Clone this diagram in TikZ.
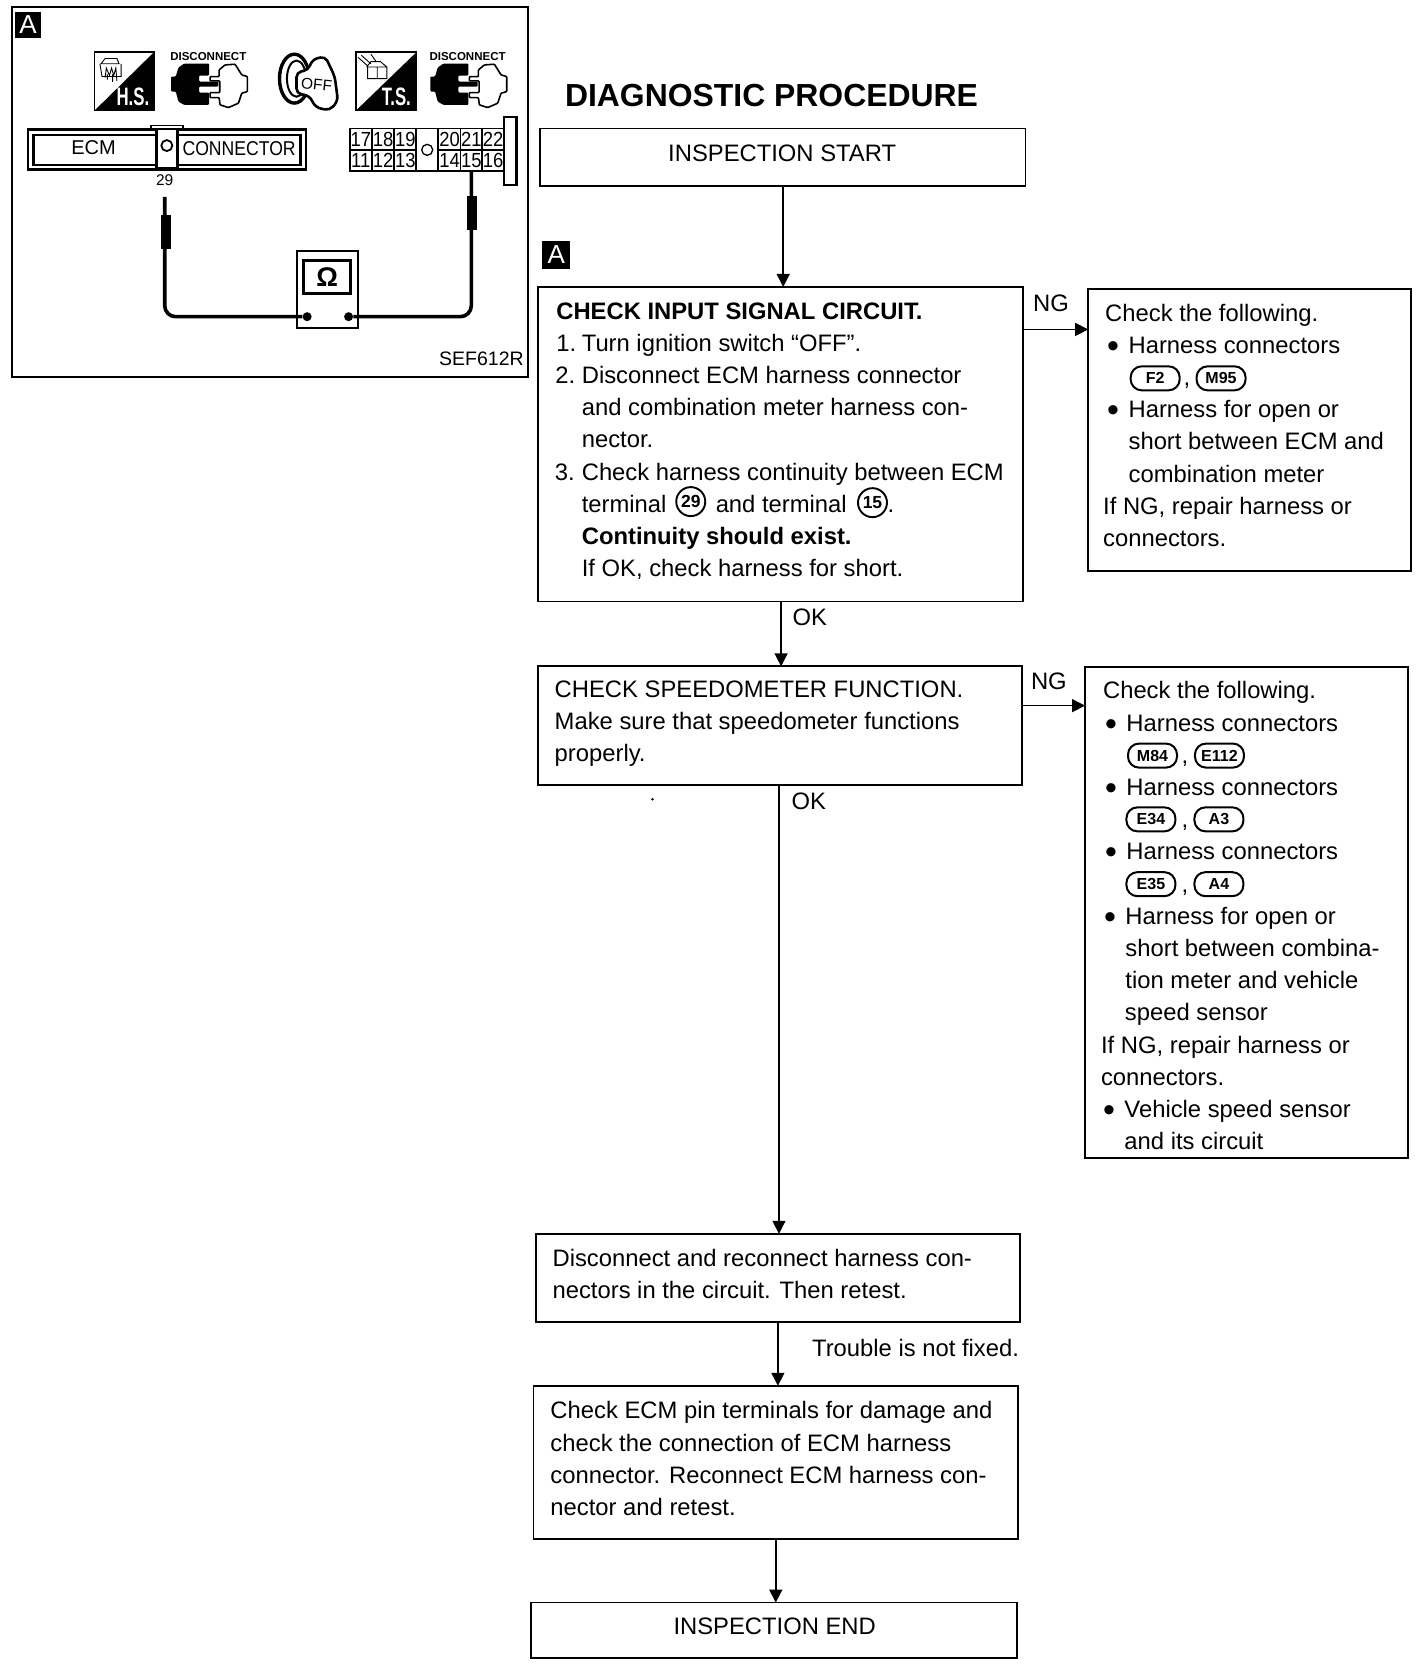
\documentclass[tikz,border=0pt]{standalone}
\usepackage{fontspec}
\setmainfont{Liberation Sans}
\usetikzlibrary{arrows.meta}
\newcommand{\bodysize}{\fontsize{23.8pt}{32.2pt}\selectfont}
\tikzset{
  boxline/.style={draw=black,line width=1.8pt,inner sep=0pt,outer sep=0pt,fill=white},
  flowarrow/.style={draw=black,line width=1.5pt,-{Triangle[length=13pt,width=13pt]}},
  bodytext/.style={inner sep=0pt,outer sep=0pt,align=left,anchor=north west,font=\bodysize,text=black},
  flowlabel/.style={inner sep=0pt,font=\bodysize,text=black},
  titletext/.style={inner sep=0pt,font=\fontsize{31.9pt}{36pt}\selectfont\bfseries},
  badge/.style={fill=black,text=white,inner sep=0pt,minimum size=26pt,font=\fontsize{26pt}{26pt}\selectfont},
  pill/.style={draw=black,line width=2pt,rounded corners=11pt,minimum width=49pt,minimum height=24pt,inner sep=0pt,fill=white,font=\fontsize{16pt}{16pt}\selectfont\bfseries},
  termring/.style={draw=black,line width=1.9pt,circle,minimum size=29pt,inner sep=0pt,font=\fontsize{17.5pt}{17pt}\selectfont\bfseries},
  wire/.style={draw=black,line width=3.6pt},
  probe/.style={fill=black,draw=black,inner sep=0pt,minimum width=9pt,minimum height=33pt},
  meterdot/.style={circle,fill=black,inner sep=0pt,minimum size=9pt},
  cellbox/.style={draw=black,line width=1.5pt,inner sep=0pt,minimum width=21.8pt,minimum height=21.3pt,font=\fontsize{20pt}{20pt}\selectfont},
  smalltext/.style={inner sep=0pt,font=\fontsize{19pt}{20pt}\selectfont},
  icontag/.style={inner sep=0pt,font=\fontsize{11.5pt}{12pt}\selectfont\bfseries},
  discon/.pic={
    \begin{scope}[x=0.3333pt,y=-0.3333pt]
      \fill[black,rounded corners=1pt] (0,40)--(14,40)--(22,13)--(39,1)--(114,1)--(114,37)--(84,37)--(84,55)--(142,55)--(142,70)--(84,70)--(84,88)--(114,88)--(114,125)--(39,125)--(22,115)--(14,85)--(0,85)--cycle;
      \draw[black,line width=1.6pt,rounded corners=.8pt] (117,40)--(144,40)--(144,20)--(162,5)--(192,3)--(212,35)--(229,40)--(229,85)--(212,90)--(202,120)--(172,133)--(147,125)--(144,103)--(117,103)--(117,88)--(146,88)--(146,53)--(117,53)--cycle;
    \end{scope}
  },
}
\newcommand{\flowbox}[6]{%
  \pgfmathsetmacro{\boxw}{(#4-#2)*1.0627}%
  \pgfmathsetmacro{\boxh}{(#5-#3)*1.0627}%
  \node[boxline,minimum width=\boxw pt,minimum height=\boxh pt,font=\bodysize] (#1) at ({(#2+#4)/2},{(#3+#5)/2}) {#6};%
}
\newcommand{\gridcell}[3]{\node[cellbox] (cell#1) at (#2,#3) {\scalebox{.92}[1.02]{#1}};}
\newcommand{\bul}{\makebox[23.4pt][l]{\hspace{2pt}\raisebox{-4pt}{\fontsize{34pt}{34pt}\selectfont •}}}
\newcommand{\ind}{\hspace*{23.4pt}}
\newcommand{\numb}[1]{\makebox[25.5pt][l]{#1}}
\begin{document}
\begin{tikzpicture}[x=1.0627pt,y=-1.0627pt]
\useasboundingbox (0,0) rectangle (1340,1567.7);
\fill[white] (0,0) rectangle (1340,1567.7);

% ---------- left panel ----------
\node[boxline,fill=none,minimum width=516.5pt,minimum height=370pt] (panel) at (254,181) {};
\node[badge] (badgeL) at (26.5,23.5) {A};

% H.S. icon
\draw[black,line width=1.2pt,fill=white] (89,49) rectangle (145,104);
\fill[black] (89,104)--(145,49)--(145,104)--cycle;
\node[inner sep=0pt,text=white,xscale=.8,yscale=1.2,font=\fontsize{21pt}{21pt}\selectfont\bfseries] (hs) at (125,91) {H.S.};
\draw[black,line width=.9pt] (95,60)--(99,55)--(110,55)--(112,60)--(95,60) (94,60)--(96,72)--(114,72)--(114,60)
  (99,73)--(100,64)--(103,71)--(105,64)--(107,71)--(109,64)--(110,76) (101,75)--(101,70) (106,77)--(106,70);
% Disconnect 1
\node[icontag] (dtag1) at (196,53) {DISCONNECT};
\pic (dc1) at (161,59.5) {discon};
% key
\draw[black,line width=3.4pt] (277,74) ellipse (14 and 23);
\draw[black,line width=2pt] (279,74) ellipse (9 and 17);
\draw[black,line width=2.6pt,fill=white,rounded corners=5pt] (279,68)--(290,66)--(294,56)--(306,53)--(315,72)--(318,95)--(310,104)--(297,101)--(291,90)--(279,88)--cycle;
\node[inner sep=0pt,rotate=-6,font=\fontsize{15.5pt}{16pt}\selectfont] (offtag) at (298,80) {OFF};
% T.S. icon
\draw[black,line width=1.2pt,fill=white] (335,49) rectangle (392,104);
\fill[black] (335,104)--(392,49)--(392,104)--cycle;
\node[inner sep=0pt,text=white,xscale=.8,yscale=1.2,font=\fontsize{21pt}{21pt}\selectfont\bfseries] (ts) at (373,91) {T.S.};
\draw[black,line width=.9pt] (346,63) rectangle (355,74) (355,63) rectangle (364,74) (345,63)--(349,58)--(358,58)--(364,63)
  (337,54)--(346,62) (340,52)--(349,60) (349,51)--(354,58);
% Disconnect 2
\node[icontag] (dtag2) at (440,53) {DISCONNECT};
\pic (dc2) at (405,59.5) {discon};

% ECM connector
\draw[black,line width=1.5pt,fill=white] (142,122)--(142,118)--(172,118)--(172,122);
\node[boxline,line width=2.4pt,minimum width=278pt,minimum height=40pt] (ecmouter) at (157,140.5) {};
\node[boxline,line width=2.4pt,minimum width=267pt,minimum height=30pt] (ecminner) at (157,141) {};
\node[boxline,line width=2.4pt,minimum width=21pt,minimum height=39pt] (ecmslot) at (157,140) {};
\node[circle,draw=black,line width=1.8pt,minimum size=11pt,inner sep=0pt] (ecmring) at (157,137) {};
\node[smalltext,font=\fontsize{20pt}{20pt}\selectfont] (ecmtxt) at (88,139) {ECM};
\node[smalltext,xscale=.88,font=\fontsize{20pt}{20pt}\selectfont] (conntxt) at (225,140) {CONNECTOR};
\node[inner sep=0pt,font=\fontsize{15.5pt}{16pt}\selectfont] (lab29) at (155,170) {29};

% right connector
\node[draw=black,line width=2.6pt,fill=white,inner sep=0pt,minimum width=12.5pt,minimum height=68pt] (conntab) at (480,142) {};
\gridcell{17}{339.5}{131}\gridcell{18}{360.5}{131}\gridcell{19}{381.5}{131}
\gridcell{11}{339.5}{151}\gridcell{12}{360.5}{151}\gridcell{13}{381.5}{151}
\gridcell{20}{423}{131}\gridcell{21}{443.5}{131}\gridcell{22}{464}{131}
\gridcell{14}{423}{151}\gridcell{15}{443.5}{151}\gridcell{16}{464}{151}
\node[draw=black,line width=1.5pt,inner sep=0pt,minimum width=22pt,minimum height=42.5pt] (connmid) at (402,141) {};
\node[circle,draw=black,line width=1.3pt,minimum size=11pt,inner sep=0pt] (midring) at (402,141) {};

% meter
\node[draw=black,line width=2pt,fill=white,inner sep=0pt,minimum width=61.5pt,minimum height=77.5pt] (meter) at (308,272.5) {};
\node[draw=black,line width=3pt,inner sep=0pt,minimum width=47pt,minimum height=33pt,font=\fontsize{27pt}{27pt}\selectfont\bfseries] (screen) at (308,261) {Ω};
\node[meterdot] (d1) at (289,298) {};
\node[meterdot] (d2) at (328,298) {};
\draw[wire,rounded corners=11pt] (lab29.south) ++(0,10) |- (d1);
\draw[wire,rounded corners=11pt] (d2) -| (cell15.south);
\node[probe] (probe1) at (156,218) {};
\node[probe] (probe2) at (444,200) {};
\node[smalltext,anchor=east,font=\fontsize{19.5pt}{20pt}\selectfont] (sef) at (493,338) {SEF612R};

% ---------- flow chart ----------
\node[titletext] (title) at (726,90) {DIAGNOSTIC PROCEDURE};
\node[badge,minimum size=28pt] (badgeR) at (523.5,240) {A};
\flowbox{start}{508}{121}{965}{175}{}
\node[flowlabel] (starttxt) at (736,144) {INSPECTION START};
\flowbox{check1}{506}{270}{963}{566}{}
\node[bodytext] (check1txt) at (523.5,279) {\strut\textbf{CHECK INPUT SIGNAL CIRCUIT.}\\
\numb{1.}Turn ignition switch “OFF”.\\
\hspace*{-1pt}\numb{2.}\hspace*{1pt}Disconnect ECM harness connector\\
\hspace*{25.5pt}and combination meter harness con-\\
\hspace*{25.5pt}nector.\\
\hspace*{-1.5pt}\numb{3.}\hspace*{1.5pt}Check harness continuity between ECM\\
\hspace*{25.5pt}terminal\hspace*{49.3pt}and terminal\hspace*{41pt}.\\
\hspace*{25.5pt}\textbf{Continuity should exist.}\\
\hspace*{25.5pt}If OK, check harness for short.};
\node[termring] (t29) at (650,472) {29};
\node[termring] (t15) at (821,473) {15};
\flowbox{side1}{1024}{272}{1328}{537}{}
\node[bodytext] (side1txt) at (1040,281) {\strut Check the following.\\
\bul Harness connectors\\
\hspace*{78.5pt},\\
\bul Harness for open or\\
\ind short between ECM and\\
\ind combination meter\\
\hspace*{-2pt}If NG, repair harness or\\
\hspace*{-2pt}connectors.};
\node[pill] (pF2) at (1087,356) {F2};
\node[pill] (pM95) at (1149,356) {M95};
\flowbox{check2}{506}{627}{962}{739}{}
\node[bodytext] (check2txt) at (522,635) {\strut CHECK SPEEDOMETER FUNCTION.\\
Make sure that speedometer functions\\
properly.};
\flowbox{side2}{1021}{628}{1325}{1090}{}
\node[bodytext] (side2txt) at (1038,636.5) {\strut Check the following.\\
\bul Harness connectors\\
\hspace*{78.5pt},\\
\bul Harness connectors\\
\hspace*{78.5pt},\\
\bul Harness connectors\\
\hspace*{78.5pt},\\
\hspace*{-1pt}\bul Harness for open or\\
\hspace*{-1pt}\ind short between combina-\\
\hspace*{-1pt}\ind tion meter and vehicle\\
\hspace*{-1.5pt}\ind speed sensor\\
\hspace*{-2pt}If NG, repair harness or\\
\hspace*{-2pt}connectors.\\
\hspace*{-2pt}\bul Vehicle speed sensor\\
\hspace*{-2pt}\ind and its circuit};
\node[pill] (pM84) at (1084.5,711) {M84};
\node[pill] (pE112) at (1147.5,711) {E112};
\node[pill] (pE34) at (1083,771) {E34};
\node[pill] (pA3) at (1147,771) {A3};
\node[pill] (pE35) at (1083,832) {E35};
\node[pill] (pA4) at (1147,832) {A4};
\flowbox{disc}{504}{1161}{960}{1244}{}
\node[bodytext] (disctxt) at (520,1170.5) {\strut Disconnect and reconnect harness con-\\
nectors in the circuit. Then retest.};
\flowbox{ecmchk}{502}{1304}{958}{1448}{}
\node[bodytext] (ecmtxtb) at (518,1314) {\strut Check ECM pin terminals for damage and\\
check the connection of ECM harness\\
connector. Reconnect ECM harness con-\\
nector and retest.};
\flowbox{finish}{500}{1508}{957}{1560}{}
\node[flowlabel] (finishtxt) at (729,1530) {INSPECTION END};

% connectors
\coordinate (a1) at (737,175);
\draw[flowarrow] (a1) -- (a1 |- check1.north);
\coordinate (a2) at (735,566);
\draw[flowarrow] (a2) -- (a2 |- check2.north);
\coordinate (a3) at (733,739);
\draw[flowarrow,line width=1.2pt] (a3) -- (a3 |- disc.north);
\coordinate (a4) at (732,1244);
\draw[flowarrow] (a4) -- (a4 |- ecmchk.north);
\coordinate (a5) at (730,1448);
\draw[flowarrow] (a5) -- (a5 |- finish.north);
\coordinate (n1) at (963,310);
\draw[flowarrow] (n1) -- (n1 -| side1.west);
\coordinate (n2) at (962,664);
\draw[flowarrow] (n2) -- (n2 -| side2.west);
\node[flowlabel] (ng1) at (989,285) {NG};
\node[flowlabel] (ng2) at (987,641) {NG};
\node[flowlabel] (ok1) at (762,581) {OK};
\node[flowlabel] (ok2) at (761,754) {OK};
\node[flowlabel,anchor=east] (trouble) at (959,1268) {Trouble is not fixed.};
\fill[black] (614,752) circle (1.3);
\end{tikzpicture}
\end{document}
